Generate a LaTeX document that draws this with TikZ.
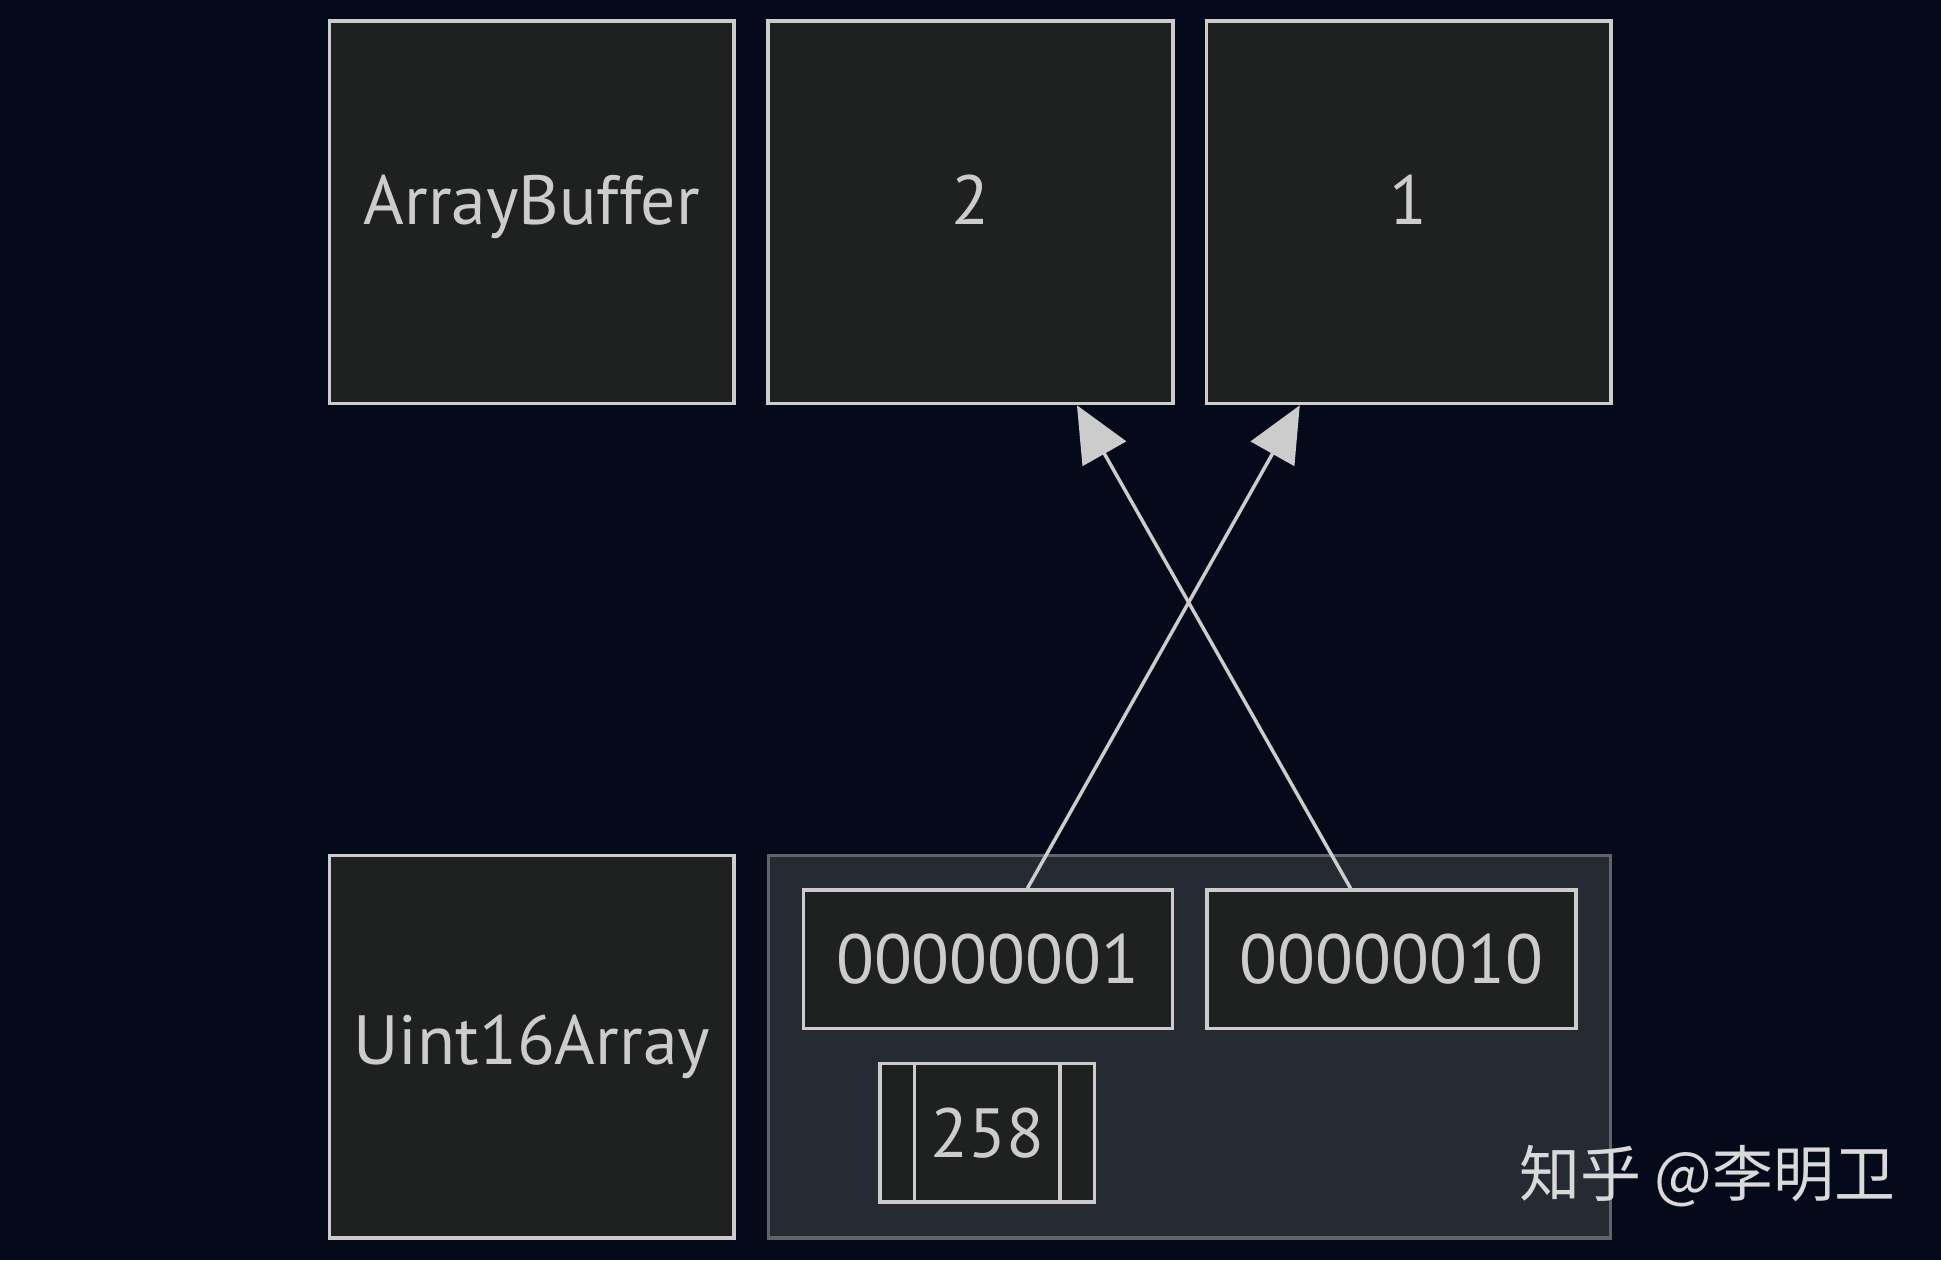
\documentclass[tikz,border=0pt]{standalone}
\usepackage{fontspec}
\setmainfont{PT Sans}
\newfontfamily\cjk{Noto Sans CJK SC}
\usetikzlibrary{arrows.meta, positioning}
\definecolor{bgdark}{HTML}{050A1A}
\definecolor{boxfill}{HTML}{1F2020}
\definecolor{grpfill}{HTML}{262A33}
\definecolor{edge}{HTML}{CCCCCC}

\begin{document}
\begin{tikzpicture}[%
    ,>={Triangle[width=4mm,length=4.5mm]}
    ,block/.style = {%
        ,draw=edge, fill=boxfill, line width=0.8pt
        ,text=edge, font=\fontsize{16}{19}\selectfont
        ,minimum height=30.9mm, minimum width=32.7mm
        ,inner sep=0pt
        }
    ,cell/.style = {%
        ,block
        ,minimum height=11.2mm, minimum width=29.8mm
        }
    ]
\fill[bgdark] (0,0) rectangle (15.68,10.18);
\useasboundingbox (0,0) rectangle (15.68,10.18);

% top row
\node (ab)  [block] at (4.295,8.465) {\raisebox{2mm}{ArrayBuffer}};
\node (two) [block] at (7.84,8.465)  {\raisebox{2mm}{2}};
\node (one) [block] at (11.38,8.465) {\raisebox{2mm}{1}};

% bottom row
\node (u16) [block] at (4.295,1.725) {Uint16Array};
\node (grp) [block, fill=grpfill, draw=edge!35!grpfill, minimum width=68mm]
    at (9.61,1.725) {};
\node (b01) [cell] at (7.98,2.43)  {00000001};
\node (b10) [cell] at (11.24,2.43) {00000010};
\node (val) [cell, minimum width=17.3mm] at (7.975,1.03) {258};
\draw[edge, line width=0.8pt] ([xshift=2.9mm]val.north west) -- ([xshift=2.9mm]val.south west);
\draw[edge, line width=0.8pt] ([xshift=-2.9mm]val.north east) -- ([xshift=-2.9mm]val.south east);

% connectors
\draw[->, edge, line width=0.8pt] ([xshift=3.2mm]b01.north) -- ([xshift=-8.8mm]one.south);
\draw[->, edge, line width=0.8pt] ([xshift=-3.3mm]b10.north) -- ([xshift=8.6mm]two.south);

\node (wm) [text=white!85!black, font=\cjk\fontsize{14}{17}\selectfont, anchor=center]
    at (13.79,0.68) {知乎 @李明卫};
\end{tikzpicture}
\end{document}
